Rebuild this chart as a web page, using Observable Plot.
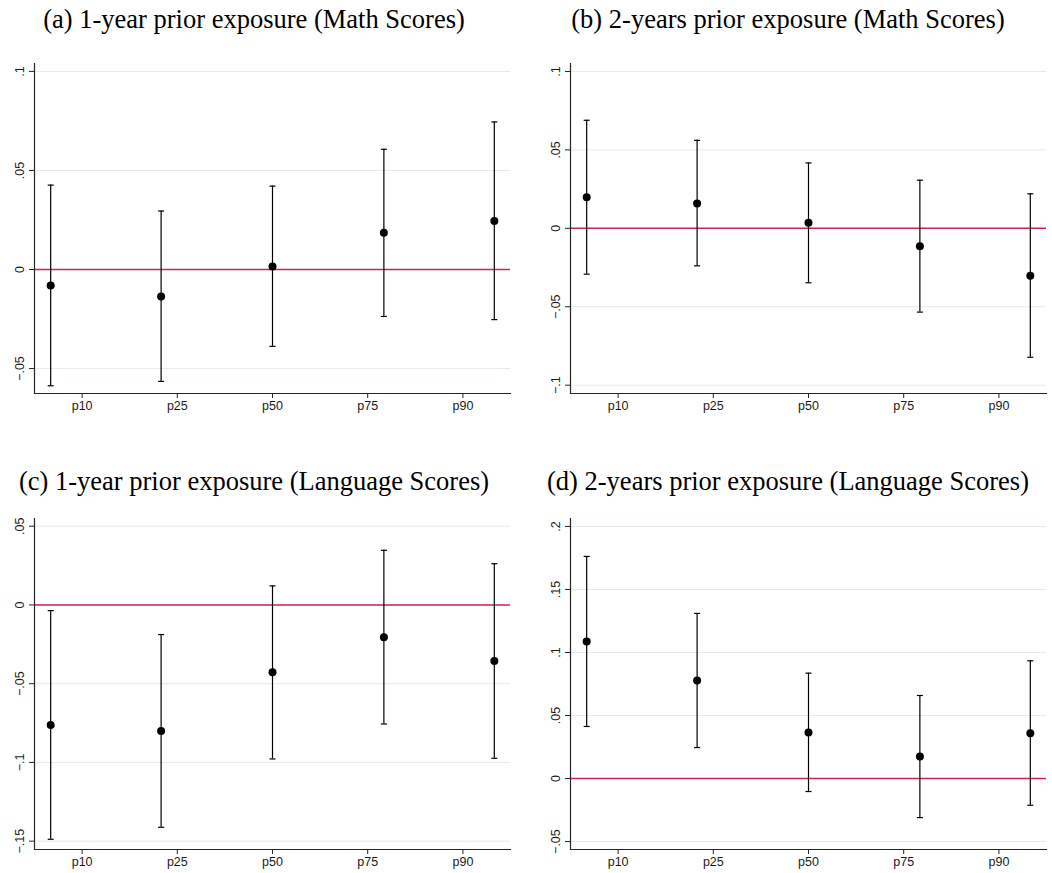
<!DOCTYPE html>
<html><head><meta charset="utf-8">
<script src="https://cdn.jsdelivr.net/npm/d3@7"></script>
<script src="https://cdn.jsdelivr.net/npm/@observablehq/plot@0.6"></script>
<style>
body{margin:0;background:#fff;}
#fig{position:relative;width:1052px;height:873px;overflow:hidden;background:#fff;}
.title{position:absolute;font-family:"Liberation Serif","Times New Roman",serif;font-size:26.5px;line-height:26.5px;white-space:nowrap;text-align:center;color:#000;width:600px;}
.panel{position:absolute;}
</style></head><body><div id="fig"></div>
<script>
// Categories (x-axis tick labels) and their tick positions on the axis
const categories = ["p10", "p25", "p50", "p75", "p90"];
const xTicks = [1, 2, 3, 4, 5];
// x value of each estimate (points sit slightly off the labelled ticks)
const pointPos = [0.67, 1.83, 3, 4.17, 5.33];

// (a) 1-year prior exposure, Math
const mathY1Est = [-0.0081, -0.0136, 0.0015, 0.0185, 0.0245];
const mathY1Lo  = [-0.0587, -0.0565, -0.0388, -0.0237, -0.0253];
const mathY1Hi  = [0.0426, 0.0295, 0.0421, 0.0607, 0.0745];
const mathY1Ticks = [-0.05, 0, 0.05, 0.1];

// (b) 2-years prior exposure, Math
const mathY2Est = [0.0199, 0.0159, 0.0036, -0.0114, -0.0303];
const mathY2Lo  = [-0.0292, -0.0239, -0.0347, -0.0534, -0.0822];
const mathY2Hi  = [0.0689, 0.0561, 0.0417, 0.0307, 0.0220];
const mathY2Ticks = [-0.1, -0.05, 0, 0.05, 0.1];

// (c) 1-year prior exposure, Language
const langY1Est = [-0.0762, -0.0800, -0.0428, -0.0205, -0.0356];
const langY1Lo  = [-0.1488, -0.1412, -0.0978, -0.0756, -0.0974];
const langY1Hi  = [-0.0036, -0.0188, 0.0121, 0.0347, 0.0262];
const langY1Ticks = [-0.15, -0.1, -0.05, 0, 0.05];

// (d) 2-years prior exposure, Language
const langY2Est = [0.1087, 0.0778, 0.0365, 0.0175, 0.0360];
const langY2Lo  = [0.0413, 0.0246, -0.0103, -0.0310, -0.0212];
const langY2Hi  = [0.1762, 0.1310, 0.0836, 0.0659, 0.0934];
const langY2Ticks = [-0.05, 0, 0.05, 0.1, 0.15, 0.2];

const titles = [
  "(a) 1-year prior exposure (Math Scores)",
  "(b) 2-years prior exposure (Math Scores)",
  "(c) 1-year prior exposure (Language Scores)",
  "(d) 2-years prior exposure (Language Scores)"
];

const fmt = d => d === 0 ? "0" : (d < 0 ? "\u2212" : "") + String(+Math.abs(d).toFixed(3)).replace(/^0/, "");
const capSymbol = {draw(ctx, size) { const w = Math.sqrt(size / Math.PI); ctx.moveTo(-w, 0); ctx.lineTo(w, 0); }};
const zeroColor = "#cc2452";
const axisColor = "#262626";

function panel(cfg) {
  const rows = categories.map((c, i) => ({c, x: pointPos[i], est: cfg.est[i], lo: cfg.lo[i], hi: cfg.hi[i]}));
  const chart = Plot.plot({
    width: cfg.width, height: cfg.height,
    marginLeft: 34, marginRight: cfg.width - 34 - 476,
    marginTop: cfg.marginTop, marginBottom: cfg.marginBottom,
    style: {background: "white", fontFamily: "'Liberation Sans', Arial, sans-serif", fontSize: "12.5px", color: "#1a1a1a", overflow: "visible"},
    x: {domain: [0.5, 5.5]},
    y: {domain: cfg.yDomain},
    marks: [
      Plot.gridY(cfg.yTicks, {stroke: "#e2ebee", strokeOpacity: 1, strokeWidth: 1}),
      Plot.ruleY([0], {stroke: zeroColor, strokeWidth: 1.5}),
      Plot.ruleX(rows, {x: "x", y1: "lo", y2: "hi", stroke: "#000", strokeWidth: 1.2}),
      Plot.dot(rows, {x: "x", y: "lo", symbol: capSymbol, r: 3, stroke: "#000", fill: "none", strokeWidth: 1.2}),
      Plot.dot(rows, {x: "x", y: "hi", symbol: capSymbol, r: 3, stroke: "#000", fill: "none", strokeWidth: 1.2}),
      Plot.dot(rows, {x: "x", y: "est", r: 4, fill: "#000", stroke: "none"}),
      Plot.axisY(cfg.yTicks, {tickFormat: fmt, tickRotate: -90, tickSize: 5, tickPadding: 6, label: null, stroke: axisColor, fontSize: 12.5, fill: "#1a1a1a"}),
      Plot.axisX(xTicks, {tickFormat: d => categories[xTicks.indexOf(d)], tickSize: 5, tickPadding: 3, label: null, stroke: axisColor, fontSize: 12.5, fill: "#1a1a1a"}),
      Plot.frame({anchor: "left", stroke: axisColor, strokeWidth: 1.2}),
      Plot.frame({anchor: "bottom", stroke: axisColor, strokeWidth: 1.2})
    ]
  });
  const div = document.createElement("div");
  div.className = "panel";
  div.style.left = cfg.left + "px";
  div.style.top = cfg.top + "px";
  div.appendChild(chart);
  fig.appendChild(div);
  const t = document.createElement("div");
  t.className = "title";
  t.textContent = cfg.title;
  t.style.left = (cfg.titleCenter - 300) + "px";
  t.style.top = cfg.titleTop + "px";
  fig.appendChild(t);
}

const fig = document.getElementById("fig");
const topRow = {top: 50, height: 370, marginTop: 13, marginBottom: 27, titleTop: 6};
const botRow = {top: 506, height: 367, marginTop: 12, marginBottom: 24, titleTop: 468};
const leftCol = {left: 0, width: 520, titleCenter: 254};
const rightCol = {left: 536, width: 516, titleCenter: 788};

panel({...topRow, ...leftCol, title: titles[0], est: mathY1Est, lo: mathY1Lo, hi: mathY1Hi, yTicks: mathY1Ticks, yDomain: [-0.0626, 0.104]});
panel({...topRow, ...rightCol, title: titles[1], est: mathY2Est, lo: mathY2Lo, hi: mathY2Hi, yTicks: mathY2Ticks, yDomain: [-0.1053, 0.1051]});
panel({...botRow, ...leftCol, title: titles[2], est: langY1Est, lo: langY1Lo, hi: langY1Hi, yTicks: langY1Ticks, yDomain: [-0.1553, 0.0549]});
panel({...botRow, ...rightCol, title: titles[3], est: langY2Est, lo: langY2Lo, hi: langY2Hi, yTicks: langY2Ticks, yDomain: [-0.0563, 0.2063]});
</script></body></html>
